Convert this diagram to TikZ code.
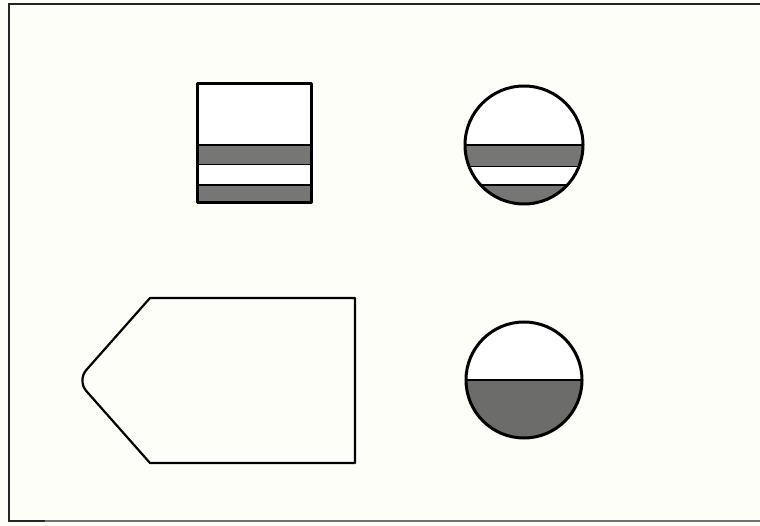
\documentclass[tikz,border=0pt]{standalone}
\begin{document}
\begin{tikzpicture}[x=1pt,y=-1pt,
  outline/.style={draw=black,line width=3pt,line join=round},
  band/.style={fill=bandgray},
  sep/.style={draw=black,line width=2.4pt}]
\definecolor{paper}{HTML}{FEFEF8}
\definecolor{bandgray}{HTML}{767674}
\definecolor{halfgray}{HTML}{6C6C6A}
\fill[paper] (0,0) rectangle (760,526);
\useasboundingbox (0,0) rectangle (760,526);
% frame
\draw[line width=1.6pt,black!85] (760,4) -- (9,4) -- (9,521) -- (45,521);
\draw[line width=1.2pt,black!55] (45,521) -- (760,521);
% square with two bands
\fill[white] (197,84) rectangle (311,203);
\fill[band] (197,145) rectangle (311,164);
\fill[band] (197,185) rectangle (311,203);
\draw[sep] (197,145) -- (311,145);
\draw[sep,line width=1.6pt] (197,164.5) -- (311,164.5);
\draw[sep] (197,185) -- (311,185);
\draw[outline] (197,84) rectangle (311,203);
% circle with bands
\coordinate (c1) at (524,145);
\fill[white] (c1) circle (59);
\begin{scope}
  \clip (c1) circle (59);
  \fill[band] (460,145) rectangle (590,166);
  \fill[band] (460,185) rectangle (590,210);
  \draw[sep] (460,145) -- (590,145);
  \draw[sep,line width=1.5pt] (460,166.5) -- (590,166.5);
  \draw[sep] (460,185) -- (590,185);
\end{scope}
\draw[outline] (c1) circle (59);
% circle half filled
\coordinate (c2) at (524,380);
\fill[white] (c2) circle (58);
\fill[halfgray] (466,380) arc[start angle=180,end angle=0,radius=58] -- cycle;
\draw[sep] (466,380) -- (582,380);
\draw[outline] (c2) circle (58);
% pentagon tag
\draw[line width=2.2pt,line join=round,fill=paper]
  (355,298) -- (150,298) [rounded corners=14pt] -- (77,380.5) [sharp corners] -- (150,463) -- (355,463) -- cycle;
\end{tikzpicture}
\end{document}
